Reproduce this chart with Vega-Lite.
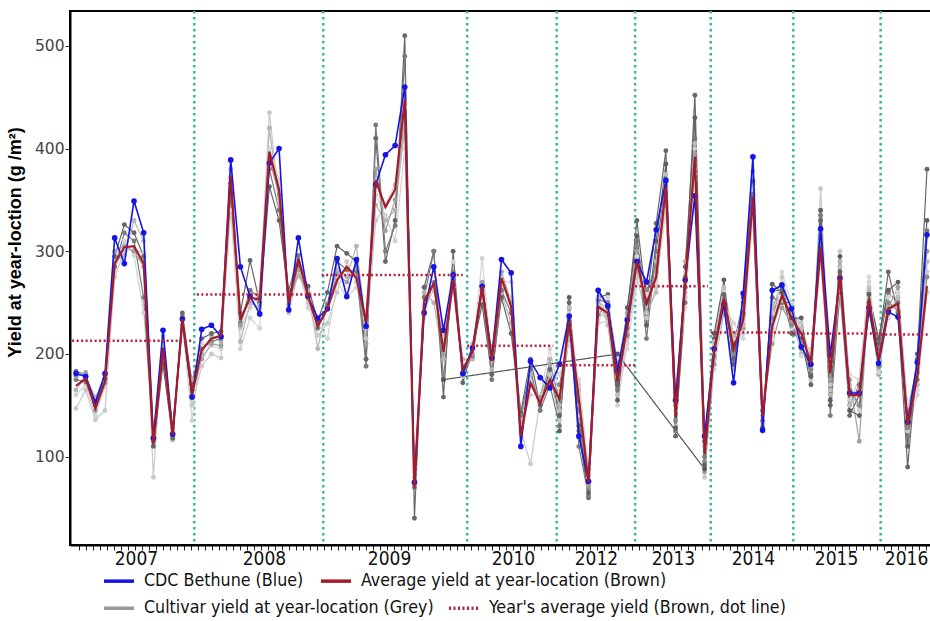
{
  "$schema": "https://vega.github.io/schema/vega-lite/v6.json",
  "width": 862,
  "height": 534,
  "autosize": {"type": "none"},
  "padding": {"left": 70, "top": 11, "right": 0, "bottom": 76},
  "background": "white",
  "config": {
    "view": {"stroke": "black", "strokeWidth": 2},
    "axis": {"grid": false},
    "font": "Liberation Sans"
  },
  "datasets": {
    "yl": [
      {"i":0,"B":181,"A":169,"g1":147,"g2":165,"g3":160,"g4":183,"g5":175,"g6":178},
      {"i":1,"B":178,"A":176,"g1":165,"g2":178,"g3":170,"g4":180,"g5":173,"g6":182},
      {"i":2,"B":153,"A":147,"g1":136,"g2":158,"g3":140,"g4":150,"g5":152,"g6":145},
      {"i":3,"B":181,"A":173,"g1":145,"g2":175,"g3":168,"g4":176,"g5":180,"g6":172},
      {"i":4,"B":313,"A":288,"g1":275,"g2":290,"g3":280,"g4":295,"g5":285,"g6":300},
      {"i":5,"B":288,"A":304,"g1":300,"g2":296,"g3":310,"g4":326,"g5":318,"g6":305},
      {"i":6,"B":349,"A":305,"g1":302,"g2":330,"g3":296,"g4":318,"g5":310,"g6":300},
      {"i":7,"B":318,"A":288,"g1":298,"g2":310,"g3":240,"g4":295,"g5":255,"g6":285},
      {"i":8,"B":118,"A":112,"g1":80,"g2":120,"g3":125,"g4":110,"g5":115,"g6":118},
      {"i":9,"B":223,"A":206,"g1":218,"g2":205,"g3":212,"g4":190,"g5":200,"g6":198},
      {"i":10,"B":122,"A":121,"g1":116,"g2":125,"g3":130,"g4":118,"g5":120,"g6":128},
      {"i":11,"B":234,"A":234,"g1":238,"g2":226,"g3":230,"g4":240,"g5":236,"g6":228},
      {"i":12,"B":158,"A":161,"g1":150,"g2":175,"g3":135,"g4":170,"g5":165,"g6":160},
      {"i":13,"B":224,"A":204,"g1":188,"g2":200,"g3":210,"g4":215,"g5":205,"g6":195},
      {"i":14,"B":228,"A":215,"g1":200,"g2":218,"g3":208,"g4":220,"g5":212,"g6":210},
      {"i":15,"B":217,"A":218,"g1":196,"g2":212,"g3":205,"g4":222,"g5":215,"g6":208},
      {"i":16,"B":389,"A":373,"g1":380,"g2":360,"g3":340,"g4":366,"g5":355,"g6":372},
      {"i":17,"B":285,"A":233,"g1":225,"g2":212,"g3":205,"g4":240,"g5":230,"g6":228},
      {"i":18,"B":256,"A":255,"g1":245,"g2":250,"g3":235,"g4":291,"g5":262,"g6":258},
      {"i":19,"B":239,"A":253,"g1":260,"g2":245,"g3":225,"g4":250,"g5":255,"g6":248},
      {"i":20,"B":386,"A":397,"g1":435,"g2":420,"g3":400,"g4":363,"g5":380,"g6":390},
      {"i":21,"B":400,"A":360,"g1":350,"g2":345,"g3":370,"g4":330,"g5":340,"g6":355},
      {"i":22,"B":243,"A":250,"g1":240,"g2":255,"g3":245,"g4":258,"g5":262,"g6":248},
      {"i":23,"B":313,"A":293,"g1":280,"g2":276,"g3":290,"g4":285,"g5":296,"g6":282},
      {"i":24,"B":256,"A":256,"g1":250,"g2":262,"g3":245,"g4":266,"g5":258,"g6":255},
      {"i":25,"B":235,"A":227,"g1":218,"g2":205,"g3":230,"g4":232,"g5":225,"g6":228},
      {"i":26,"B":244,"A":244,"g1":230,"g2":250,"g3":215,"g4":260,"g5":248,"g6":245},
      {"i":27,"B":293,"A":272,"g1":260,"g2":282,"g3":270,"g4":305,"g5":290,"g6":278},
      {"i":28,"B":256,"A":285,"g1":290,"g2":275,"g3":255,"g4":298,"g5":282,"g6":270},
      {"i":29,"B":292,"A":274,"g1":270,"g2":305,"g3":265,"g4":290,"g5":280,"g6":285},
      {"i":30,"B":227,"A":231,"g1":215,"g2":225,"g3":240,"g4":195,"g5":188,"g6":210},
      {"i":31,"B":365,"A":369,"g1":330,"g2":345,"g3":355,"g4":410,"g5":423,"g6":380},
      {"i":32,"B":394,"A":343,"g1":345,"g2":330,"g3":335,"g4":290,"g5":300,"g6":320},
      {"i":33,"B":403,"A":360,"g1":365,"g2":340,"g3":310,"g4":330,"g5":325,"g6":350},
      {"i":34,"B":460,"A":448,"g1":440,"g2":420,"g3":400,"g4":510,"g5":490,"g6":430},
      {"i":35,"B":75,"A":69,"g1":85,"g2":80,"g3":90,"g4":40,"g5":70,"g6":72},
      {"i":36,"B":240,"A":251,"g1":245,"g2":260,"g3":235,"g4":265,"g5":255,"g6":240},
      {"i":37,"B":285,"A":269,"g1":262,"g2":250,"g3":285,"g4":300,"g5":300,"g6":270},
      {"i":38,"B":223,"A":202,"g1":220,"g2":195,"g3":210,"g4":158,"g5":175,"g6":200,"g7":175},
      {"i":39,"B":277,"A":272,"g1":270,"g2":265,"g3":290,"g4":300,"g5":280,"g6":275},
      {"i":40,"B":181,"A":185,"g1":178,"g2":195,"g3":188,"g4":172,"g5":180,"g6":182},
      {"i":41,"B":206,"A":202,"g1":210,"g2":195,"g3":200,"g4":205,"g5":198,"g6":200},
      {"i":42,"B":266,"A":266,"g1":250,"g2":260,"g3":293,"g4":248,"g5":262,"g6":270},
      {"i":43,"B":196,"A":193,"g1":205,"g2":185,"g3":195,"g4":180,"g5":175,"g6":198},
      {"i":44,"B":292,"A":274,"g1":265,"g2":260,"g3":270,"g4":255,"g5":262,"g6":280},
      {"i":45,"B":279,"A":246,"g1":255,"g2":230,"g3":270,"g4":220,"g5":240,"g6":250},
      {"i":46,"B":110,"A":120,"g1":125,"g2":135,"g3":130,"g4":143,"g5":140,"g6":128},
      {"i":47,"B":193,"A":172,"g1":93,"g2":180,"g3":160,"g4":195,"g5":185,"g6":170},
      {"i":48,"B":177,"A":152,"g1":155,"g2":145,"g3":160,"g4":150,"g5":145,"g6":158},
      {"i":49,"B":167,"A":175,"g1":180,"g2":195,"g3":205,"g4":185,"g5":170,"g6":190},
      {"i":50,"B":190,"A":156,"g1":135,"g2":150,"g3":160,"g4":140,"g5":130,"g6":155,"g8":170,"g9":145,"g10":125,"g11":180},
      {"i":51,"B":237,"A":232,"g1":225,"g2":215,"g3":240,"g4":250,"g5":245,"g6":230,"g8":220,"g9":245,"g10":255,"g11":210},
      {"i":52,"B":120,"A":156,"g1":170,"g2":150,"g3":140,"g4":125,"g5":110,"g6":135,"g8":145,"g9":165,"g10":130,"g11":175},
      {"i":53,"B":76,"A":75,"g1":80,"g2":70,"g3":85,"g4":60,"g5":62,"g6":72,"g8":68,"g9":82,"g10":65,"g11":90},
      {"i":54,"B":262,"A":246,"g1":240,"g2":250,"g3":230,"g4":255,"g5":253,"g6":245,"g8":238,"g9":255,"g10":262,"g11":230},
      {"i":55,"B":247,"A":240,"g1":235,"g2":245,"g3":232,"g4":258,"g5":250,"g6":238,"g8":250,"g9":228,"g10":245,"g11":255},
      {"i":56,"B":184,"A":173,"g1":160,"g2":180,"g3":150,"g4":170,"g5":165,"g6":185,"g7":200,"g8":190,"g9":160,"g10":155,"g11":178},
      {"i":57,"B":233,"A":227,"g1":215,"g2":220,"g3":210,"g4":235,"g5":225,"g6":240,"g8":218,"g9":235,"g10":245,"g11":205},
      {"i":58,"B":290,"A":290,"g1":275,"g2":280,"g3":295,"g4":330,"g5":310,"g6":300,"g8":305,"g9":285,"g10":315,"g11":270},
      {"i":59,"B":270,"A":249,"g1":235,"g2":255,"g3":260,"g4":250,"g5":215,"g6":240,"g8":262,"g9":240,"g10":228,"g11":258},
      {"i":60,"B":321,"A":275,"g1":265,"g2":290,"g3":270,"g4":327,"g5":300,"g6":280,"g8":285,"g9":260,"g10":310,"g11":268},
      {"i":61,"B":369,"A":363,"g1":350,"g2":345,"g3":340,"g4":398,"g5":370,"g6":360,"g8":355,"g9":375,"g10":385,"g11":340},
      {"i":62,"B":155,"A":139,"g1":160,"g2":130,"g3":145,"g4":120,"g5":125,"g6":150,"g8":135,"g9":150,"g10":128,"g11":165},
      {"i":63,"B":272,"A":269,"g1":255,"g2":290,"g3":280,"g4":265,"g5":250,"g6":275,"g8":275,"g9":260,"g10":285,"g11":245},
      {"i":64,"B":354,"A":392,"g1":400,"g2":380,"g3":370,"g4":452,"g5":410,"g6":395,"g8":385,"g9":405,"g10":430,"g11":375},
      {"i":65,"B":120,"A":103,"g1":80,"g2":90,"g3":95,"g4":115,"g5":100,"g6":85,"g7":88,"g8":95,"g9":110,"g10":92,"g11":120},
      {"i":66,"B":205,"A":204,"g1":210,"g2":195,"g3":200,"g4":215,"g5":205,"g6":190,"g8":198,"g9":212,"g10":220,"g11":185},
      {"i":67,"B":248,"A":254,"g1":262,"g2":245,"g3":260,"g4":258,"g5":250,"g6":240,"g8":250,"g9":265,"g10":272,"g11":248},
      {"i":68,"B":172,"A":205,"g1":190,"g2":185,"g3":215,"g4":195,"g5":210,"g6":220,"g8":200,"g9":218,"g10":190,"g11":230},
      {"i":69,"B":259,"A":233,"g1":230,"g2":245,"g3":220,"g4":240,"g5":250,"g6":225,"g8":238,"g9":228,"g10":255,"g11":215},
      {"i":70,"B":392,"A":353,"g1":378,"g2":370,"g3":360,"g4":340,"g5":355,"g6":365,"g8":345,"g9":360,"g10":368,"g11":335},
      {"i":71,"B":126,"A":139,"g1":130,"g2":140,"g3":150,"g4":125,"g5":135,"g6":145,"g8":145,"g9":132,"g10":128,"g11":155},
      {"i":72,"B":262,"A":227,"g1":240,"g2":245,"g3":225,"g4":262,"g5":255,"g6":210,"g8":235,"g9":250,"g10":268,"g11":215},
      {"i":73,"B":267,"A":257,"g1":275,"g2":265,"g3":250,"g4":262,"g5":250,"g6":245,"g8":268,"g9":252,"g10":260,"g11":280},
      {"i":74,"B":244,"A":235,"g1":240,"g2":245,"g3":225,"g4":220,"g5":250,"g6":230,"g8":228,"g9":242,"g10":235,"g11":250},
      {"i":75,"B":207,"A":220,"g1":230,"g2":200,"g3":225,"g4":215,"g5":210,"g6":205,"g8":212,"g9":225,"g10":235,"g11":198},
      {"i":76,"B":190,"A":191,"g1":175,"g2":200,"g3":185,"g4":170,"g5":180,"g6":195,"g8":185,"g9":198,"g10":178,"g11":205},
      {"i":77,"B":322,"A":304,"g1":361,"g2":320,"g3":300,"g4":330,"g5":335,"g6":310,"g8":315,"g9":295,"g10":340,"g11":290},
      {"i":78,"B":199,"A":181,"g1":170,"g2":160,"g3":190,"g4":150,"g5":140,"g6":175,"g8":185,"g9":165,"g10":155,"g11":195},
      {"i":79,"B":274,"A":277,"g1":300,"g2":290,"g3":265,"g4":280,"g5":260,"g6":285,"g8":270,"g9":285,"g10":295,"g11":262},
      {"i":80,"B":162,"A":160,"g1":155,"g2":170,"g3":165,"g4":140,"g5":150,"g6":175,"g8":165,"g9":150,"g10":145,"g11":180},
      {"i":81,"B":162,"A":160,"g1":175,"g2":150,"g3":145,"g4":160,"g5":170,"g6":115,"g8":150,"g9":165,"g10":140,"g11":175},
      {"i":82,"B":245,"A":254,"g1":265,"g2":245,"g3":270,"g4":250,"g5":240,"g6":260,"g8":248,"g9":262,"g10":258,"g11":275},
      {"i":83,"B":191,"A":194,"g1":200,"g2":185,"g3":190,"g4":210,"g5":205,"g6":180,"g8":188,"g9":200,"g10":215,"g11":182},
      {"i":84,"B":241,"A":244,"g1":240,"g2":250,"g3":235,"g4":280,"g5":260,"g6":245,"g8":250,"g9":238,"g10":262,"g11":255},
      {"i":85,"B":236,"A":249,"g1":255,"g2":245,"g3":260,"g4":240,"g5":250,"g6":265,"g8":242,"g9":255,"g10":270,"g11":260},
      {"i":86,"B":134,"A":131,"g1":140,"g2":135,"g3":125,"g4":90,"g5":120,"g6":145,"g8":128,"g9":140,"g10":110,"g11":150},
      {"i":87,"B":192,"A":178,"g1":170,"g2":185,"g3":160,"g4":195,"g5":175,"g6":190,"g8":182,"g9":170,"g10":200,"g11":165},
      {"i":88,"B":316,"A":266,"g1":280,"g2":260,"g3":290,"g4":380,"g5":320,"g6":300,"g8":275,"g9":290,"g10":330,"g11":260}
    ],
    "ya": [
      {"x0":-0.4,"x1":12.1,"v":213},
      {"x0":12.5,"x1":25.25,"v":258},
      {"x0":25.4,"x1":40.0,"v":277},
      {"x0":40.45,"x1":49.35,"v":208},
      {"x0":49.71,"x1":57.82,"v":189},
      {"x0":57.82,"x1":65.35,"v":266},
      {"x0":65.64,"x1":74.18,"v":221},
      {"x0":74.18,"x1":83.21,"v":220},
      {"x0":83.21,"x1":88.52,"v":219}
    ],
    "teal": [
      {"x":12.23},{"x":25.57},{"x":40.45},{"x":49.71},{"x":57.82},{"x":65.64},{"x":74.18},{"x":83.21}
    ]
  },
  "layer": [
    {
      "data": {"name": "teal"},
      "mark": {"type": "rule", "color": "#3bb5a5", "strokeWidth": 2.5, "strokeDash": [2.5, 3.5]},
      "encoding": {
        "x": {
          "field": "x", "type": "quantitative",
          "scale": {"domain": [-0.62, 88.52], "nice": false, "zero": false},
          "axis": {
            "orient": "bottom", "title": null, "labels": false, "ticks": true, "tickSize": 5,
            "tickColor": "#222", "tickWidth": 1, "domain": true, "domainColor": "black", "domainWidth": 2, "grid": false,
            "values": [0.31,1.03,1.76,2.48,3.21,3.93,4.65,5.38,6.10,6.83,7.55,8.27,9.00,9.72,10.45,11.17,11.89,12.62,13.34,14.07,14.79,15.51,16.24,16.96,17.69,18.41,19.13,19.86,20.58,21.31,22.03,22.75,23.48,24.20,24.93,25.65,26.37,27.10,27.82,28.55,29.27,29.99,30.72,31.44,32.17,32.89,33.61,34.34,35.06,35.79,36.51,37.23,37.96,38.68,39.41,40.13,40.85,41.58,42.30,43.03,43.75,44.47,45.20,45.92,46.65,47.37,48.09,48.82,49.54,50.27,50.99,51.71,52.44,53.16,53.89,54.61,55.33,56.06,56.78,57.51,58.23,58.95,59.68,60.40,61.13,61.85,62.57,63.30,64.02,64.75,65.47,66.19,66.92,67.64,68.37,69.09,69.81,70.54,71.26,71.99,72.71,73.43,74.16,74.88,75.61,76.33,77.05,77.78,78.50,79.23,79.95,80.67,81.40,82.12,82.85,83.57,84.29,85.02,85.74,86.47,87.19,87.91]
          }
        }
      }
    },
    {
      "data": {"name": "yl"},
      "transform": [{"fold": ["g1","g2","g3","g4","g5","g6","g7","g8","g9","g10","g11"], "as": ["cult","val"]}],
      "mark": {"type": "line", "strokeWidth": 1.2, "invalid": "filter"},
      "encoding": {
        "x": {"field": "i", "type": "quantitative", "scale": {"domain": [-0.62, 88.52], "nice": false, "zero": false}, "axis": null},
        "y": {
          "field": "val", "type": "quantitative",
          "scale": {"domain": [14, 534], "nice": false, "zero": false},
          "axis": {
            "title": "Yield at year-loction (g /m²)", "values": [100,200,300,400,500],
            "labelFont": "DejaVu Sans", "labelFontSize": 15.5, "labelColor": "#444", "labelPadding": 1,
            "tickSize": 5, "tickColor": "#333", "domainColor": "black", "domainWidth": 2, "grid": false,
            "titleFont": "Liberation Sans", "titleFontSize": 18, "titleFontWeight": "bold", "titleColor": "black",
            "titlePadding": 10, "titleY": 231
          }
        },
        "stroke": {
          "field": "cult", "type": "nominal", "legend": null,
          "scale": {"domain": ["g1","g2","g3","g4","g5","g6","g7","g8","g9","g10","g11"], "range": ["#c8c8c8","#b5b5b5","#d2d2d2","#666666","#7a7a7a","#a0a0a0","#555555","#8a8a8a","#bdbdbd","#5f5f5f","#d6d6d6"]}
        },
        "strokeDash": {
          "datum": "Cultivar yield at year-location (Grey)", "type": "nominal",
          "scale": {
            "domain": ["Cultivar yield at year-location (Grey)", "Year's average yield (Brown, dot line)"],
            "range": [[1, 0], [2, 2.5]]
          },
          "legend": {
            "orient": "none", "legendX": 32, "legendY": 580, "direction": "horizontal",
            "title": null, "symbolType": "stroke", "symbolSize": 900, "symbolStrokeWidth": 3.5,
            "labelFont": "DejaVu Sans Condensed", "labelFontSize": 17.7, "labelColor": "#111", "labelOffset": 8, "labelLimit": 600,
            "columnPadding": 8,
            "encode": {"symbols": {"update": {"stroke": {"signal": "datum.value === 'Cultivar yield at year-location (Grey)' ? '#999999' : '#b8203a'"}}}}
          }
        }
      }
    },
    {
      "data": {"name": "yl"},
      "transform": [{"fold": ["g1","g2","g3","g4","g5","g6","g7","g8","g9","g10","g11"], "as": ["cult","val"]}],
      "mark": {"type": "circle", "size": 24, "opacity": 1},
      "encoding": {
        "x": {"field": "i", "type": "quantitative", "scale": {"domain": [-0.62, 88.52], "nice": false, "zero": false}, "axis": null},
        "y": {"field": "val", "type": "quantitative", "scale": {"domain": [14, 534], "nice": false, "zero": false}},
        "fill": {
          "field": "cult", "type": "nominal", "legend": null,
          "scale": {"domain": ["g1","g2","g3","g4","g5","g6","g7","g8","g9","g10","g11"], "range": ["#c8c8c8","#b5b5b5","#d2d2d2","#666666","#7a7a7a","#a0a0a0","#555555","#8a8a8a","#bdbdbd","#5f5f5f","#d6d6d6"]}
        }
      }
    },
    {
      "data": {"name": "yl"},
      "mark": {"type": "line", "strokeWidth": 1.6, "point": {"filled": true, "size": 32}},
      "encoding": {
        "x": {"field": "i", "type": "quantitative", "scale": {"domain": [-0.62, 88.52], "nice": false, "zero": false}, "axis": null},
        "y": {"field": "B", "type": "quantitative", "scale": {"domain": [14, 534], "nice": false, "zero": false}},
        "color": {
          "datum": "CDC Bethune (Blue)", "type": "nominal",
          "scale": {
            "domain": ["CDC Bethune (Blue)", "Average yield at year-location (Brown)"],
            "range": ["#1414e6", "#a51b2b"]
          },
          "legend": {
            "orient": "none", "legendX": 32, "legendY": 553, "direction": "horizontal",
            "title": null, "symbolType": "stroke", "symbolSize": 900, "symbolStrokeWidth": 3.5,
            "labelFont": "DejaVu Sans Condensed", "labelFontSize": 17.7, "labelColor": "#111", "labelOffset": 8, "labelLimit": 600,
            "columnPadding": 10
          }
        }
      }
    },
    {
      "data": {"name": "yl"},
      "mark": {"type": "line", "strokeWidth": 2.2},
      "encoding": {
        "x": {"field": "i", "type": "quantitative", "scale": {"domain": [-0.62, 88.52], "nice": false, "zero": false}, "axis": null},
        "y": {"field": "A", "type": "quantitative", "scale": {"domain": [14, 534], "nice": false, "zero": false}},
        "color": {"datum": "Average yield at year-location (Brown)", "type": "nominal"}
      }
    },
    {
      "data": {"name": "ya"},
      "mark": {"type": "rule", "strokeWidth": 2.5, "color": "#b8203a"},
      "encoding": {
        "x": {
          "field": "x0", "type": "quantitative", "scale": {"domain": [-0.62, 88.52], "nice": false, "zero": false},
          "axis": {
            "orient": "bottom", "title": null, "ticks": false, "domain": false, "grid": false,
            "values": [6.2, 19.44, 32.37, 45.19, 53.77, 61.73, 70.0, 78.6, 85.84],
            "labelExpr": "datum.value < 10 ? '2007' : datum.value < 25 ? '2008' : datum.value < 40 ? '2009' : datum.value < 50 ? '2010' : datum.value < 58 ? '2012' : datum.value < 66 ? '2013' : datum.value < 75 ? '2014' : datum.value < 83 ? '2015' : '2016'",
            "labelFont": "DejaVu Sans Condensed", "labelFontSize": 19, "labelColor": "#111", "labelPadding": 4,
            "labelOverlap": false, "labelFlush": false
          }
        },
        "x2": {"field": "x1"},
        "y": {"field": "v", "type": "quantitative", "scale": {"domain": [14, 534], "nice": false, "zero": false}},
        "strokeDash": {"datum": "Year's average yield (Brown, dot line)", "type": "nominal"}
      }
    }
  ],
  "resolve": {"axis": {"x": "independent"}}
}
